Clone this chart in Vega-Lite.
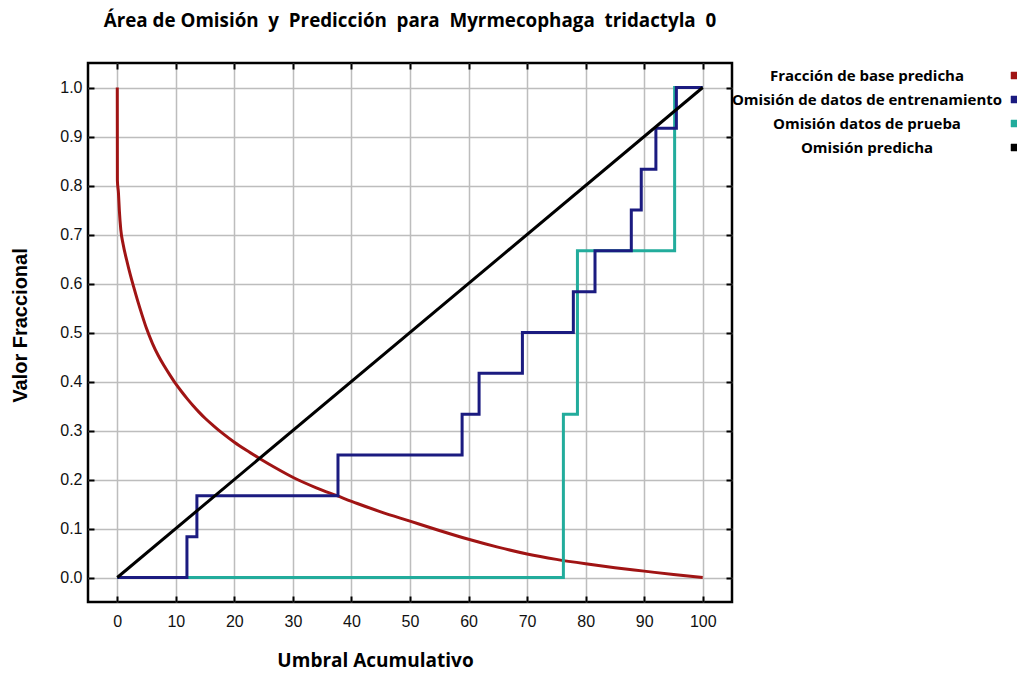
{
  "$schema": "https://vega.github.io/schema/vega-lite/v6.json",
  "width": 644,
  "height": 539,
  "autosize": "none",
  "padding": {"left": 88, "top": 63, "right": 285, "bottom": 77},
  "background": "white",
  "title": {
    "text": "Área de Omisión\u00a0 y\u00a0 Predicción\u00a0 para\u00a0 Myrmecophaga\u00a0 tridactyla\u00a0 0",
    "font": "Open Sans",
    "fontSize": 18.8,
    "fontWeight": "bold",
    "color": "black",
    "anchor": "middle",
    "offset": 31
  },
  "datasets": {
    "curvas": [
      {"serie": "Fracción de base predicha", "i": 1, "x": 0, "y": 1.0},
      {"serie": "Fracción de base predicha", "i": 2, "x": 0.02, "y": 0.81},
      {"serie": "Fracción de base predicha", "i": 3, "x": 0.2, "y": 0.785},
      {"serie": "Fracción de base predicha", "i": 4, "x": 0.35, "y": 0.75},
      {"serie": "Fracción de base predicha", "i": 5, "x": 0.6, "y": 0.71},
      {"serie": "Fracción de base predicha", "i": 6, "x": 1.0, "y": 0.68},
      {"serie": "Fracción de base predicha", "i": 7, "x": 1.6, "y": 0.648},
      {"serie": "Fracción de base predicha", "i": 8, "x": 2.2, "y": 0.619},
      {"serie": "Fracción de base predicha", "i": 9, "x": 2.8, "y": 0.593},
      {"serie": "Fracción de base predicha", "i": 10, "x": 3.5, "y": 0.564},
      {"serie": "Fracción de base predicha", "i": 11, "x": 4.2, "y": 0.537},
      {"serie": "Fracción de base predicha", "i": 12, "x": 5.0, "y": 0.508},
      {"serie": "Fracción de base predicha", "i": 13, "x": 6, "y": 0.478},
      {"serie": "Fracción de base predicha", "i": 14, "x": 7, "y": 0.453},
      {"serie": "Fracción de base predicha", "i": 15, "x": 8, "y": 0.432},
      {"serie": "Fracción de base predicha", "i": 16, "x": 9, "y": 0.413},
      {"serie": "Fracción de base predicha", "i": 17, "x": 10, "y": 0.395},
      {"serie": "Fracción de base predicha", "i": 18, "x": 11, "y": 0.379},
      {"serie": "Fracción de base predicha", "i": 19, "x": 12, "y": 0.364},
      {"serie": "Fracción de base predicha", "i": 20, "x": 13, "y": 0.35},
      {"serie": "Fracción de base predicha", "i": 21, "x": 14, "y": 0.337},
      {"serie": "Fracción de base predicha", "i": 22, "x": 15, "y": 0.325},
      {"serie": "Fracción de base predicha", "i": 23, "x": 16.5, "y": 0.309},
      {"serie": "Fracción de base predicha", "i": 24, "x": 18, "y": 0.294},
      {"serie": "Fracción de base predicha", "i": 25, "x": 20, "y": 0.276},
      {"serie": "Fracción de base predicha", "i": 26, "x": 22, "y": 0.26},
      {"serie": "Fracción de base predicha", "i": 27, "x": 24.3, "y": 0.243},
      {"serie": "Fracción de base predicha", "i": 28, "x": 27, "y": 0.224},
      {"serie": "Fracción de base predicha", "i": 29, "x": 30.4, "y": 0.202},
      {"serie": "Fracción de base predicha", "i": 30, "x": 34, "y": 0.183},
      {"serie": "Fracción de base predicha", "i": 31, "x": 37.5, "y": 0.167},
      {"serie": "Fracción de base predicha", "i": 32, "x": 41, "y": 0.151},
      {"serie": "Fracción de base predicha", "i": 33, "x": 45, "y": 0.134},
      {"serie": "Fracción de base predicha", "i": 34, "x": 50, "y": 0.115},
      {"serie": "Fracción de base predicha", "i": 35, "x": 55, "y": 0.096},
      {"serie": "Fracción de base predicha", "i": 36, "x": 60, "y": 0.078},
      {"serie": "Fracción de base predicha", "i": 37, "x": 65, "y": 0.062},
      {"serie": "Fracción de base predicha", "i": 38, "x": 70, "y": 0.048},
      {"serie": "Fracción de base predicha", "i": 39, "x": 75, "y": 0.037},
      {"serie": "Fracción de base predicha", "i": 40, "x": 80, "y": 0.028},
      {"serie": "Fracción de base predicha", "i": 41, "x": 85, "y": 0.02},
      {"serie": "Fracción de base predicha", "i": 42, "x": 90, "y": 0.013},
      {"serie": "Fracción de base predicha", "i": 43, "x": 95, "y": 0.006},
      {"serie": "Fracción de base predicha", "i": 44, "x": 100, "y": 0.0},

      {"serie": "Omisión datos de prueba", "i": 1, "x": 0, "y": 0},
      {"serie": "Omisión datos de prueba", "i": 2, "x": 76.2, "y": 0},
      {"serie": "Omisión datos de prueba", "i": 3, "x": 76.2, "y": 0.3333},
      {"serie": "Omisión datos de prueba", "i": 4, "x": 78.6, "y": 0.3333},
      {"serie": "Omisión datos de prueba", "i": 5, "x": 78.6, "y": 0.6667},
      {"serie": "Omisión datos de prueba", "i": 6, "x": 95.2, "y": 0.6667},
      {"serie": "Omisión datos de prueba", "i": 7, "x": 95.2, "y": 1},
      {"serie": "Omisión datos de prueba", "i": 8, "x": 100, "y": 1},

      {"serie": "Omisión de datos de entrenamiento", "i": 1, "x": 0, "y": 0},
      {"serie": "Omisión de datos de entrenamiento", "i": 2, "x": 11.9, "y": 0},
      {"serie": "Omisión de datos de entrenamiento", "i": 3, "x": 11.9, "y": 0.0833},
      {"serie": "Omisión de datos de entrenamiento", "i": 4, "x": 13.6, "y": 0.0833},
      {"serie": "Omisión de datos de entrenamiento", "i": 5, "x": 13.6, "y": 0.1667},
      {"serie": "Omisión de datos de entrenamiento", "i": 6, "x": 37.7, "y": 0.1667},
      {"serie": "Omisión de datos de entrenamiento", "i": 7, "x": 37.7, "y": 0.25},
      {"serie": "Omisión de datos de entrenamiento", "i": 8, "x": 58.9, "y": 0.25},
      {"serie": "Omisión de datos de entrenamiento", "i": 9, "x": 58.9, "y": 0.3333},
      {"serie": "Omisión de datos de entrenamiento", "i": 10, "x": 61.8, "y": 0.3333},
      {"serie": "Omisión de datos de entrenamiento", "i": 11, "x": 61.8, "y": 0.4167},
      {"serie": "Omisión de datos de entrenamiento", "i": 12, "x": 69.2, "y": 0.4167},
      {"serie": "Omisión de datos de entrenamiento", "i": 13, "x": 69.2, "y": 0.5},
      {"serie": "Omisión de datos de entrenamiento", "i": 14, "x": 77.9, "y": 0.5},
      {"serie": "Omisión de datos de entrenamiento", "i": 15, "x": 77.9, "y": 0.5833},
      {"serie": "Omisión de datos de entrenamiento", "i": 16, "x": 81.6, "y": 0.5833},
      {"serie": "Omisión de datos de entrenamiento", "i": 17, "x": 81.6, "y": 0.6667},
      {"serie": "Omisión de datos de entrenamiento", "i": 18, "x": 87.8, "y": 0.6667},
      {"serie": "Omisión de datos de entrenamiento", "i": 19, "x": 87.8, "y": 0.75},
      {"serie": "Omisión de datos de entrenamiento", "i": 20, "x": 89.5, "y": 0.75},
      {"serie": "Omisión de datos de entrenamiento", "i": 21, "x": 89.5, "y": 0.8333},
      {"serie": "Omisión de datos de entrenamiento", "i": 22, "x": 92, "y": 0.8333},
      {"serie": "Omisión de datos de entrenamiento", "i": 23, "x": 92, "y": 0.9167},
      {"serie": "Omisión de datos de entrenamiento", "i": 24, "x": 95.5, "y": 0.9167},
      {"serie": "Omisión de datos de entrenamiento", "i": 25, "x": 95.5, "y": 1},
      {"serie": "Omisión de datos de entrenamiento", "i": 26, "x": 100, "y": 1},

      {"serie": "Omisión predicha", "i": 1, "x": 0, "y": 0},
      {"serie": "Omisión predicha", "i": 2, "x": 100, "y": 1}
    ]
  },
  "data": {"name": "curvas"},
  "encoding": {
    "x": {"field": "x", "type": "quantitative", "scale": {"domain": [-5, 105], "nice": false, "zero": false}, "axis": null},
    "y": {"field": "y", "type": "quantitative", "scale": {"domain": [-0.05, 1.05], "nice": false, "zero": false}, "axis": null},
    "order": {"field": "i", "type": "quantitative"},
    "color": {
      "field": "serie",
      "type": "nominal",
      "scale": {
        "domain": ["Fracción de base predicha", "Omisión de datos de entrenamiento", "Omisión datos de prueba", "Omisión predicha"],
        "range": ["#a01414", "#1b1b80", "#22ac9c", "#000000"]
      },
      "legend": {
        "orient": "none",
        "legendX": 919,
        "legendY": 5,
        "title": null,
        "padding": 0,
        "symbolType": "square",
        "symbolSize": 49,
        "symbolStrokeWidth": 1,
        "labelAlign": "center",
        "labelOffset": -155,
        "labelLimit": 400,
        "labelFont": "Open Sans",
        "labelFontSize": 15,
        "labelFontWeight": "bold",
        "labelColor": "black",
        "rowPadding": 8,
        "encode": {
          "symbols": {"update": {"fill": {"scale": "color", "field": "value"}, "stroke": {"value": "#333333"}, "strokeWidth": {"value": 0.5}}}
        }
      }
    }
  },
  "resolve": {"axis": {"x": "independent", "y": "independent"}},
  "layer": [
    {
      "transform": [{"filter": "datum.serie === 'Fracción de base predicha'"}],
      "mark": {"type": "line", "strokeWidth": 3, "interpolate": "monotone"},
      "encoding": {
        "x": {
          "field": "x", "type": "quantitative",
          "scale": {"domain": [-5, 105], "nice": false, "zero": false},
          "axis": {
            "orient": "bottom",
            "values": [0, 10, 20, 30, 40, 50, 60, 70, 80, 90, 100],
            "grid": true, "gridColor": "#bdbdbd", "gridWidth": 1.5,
            "domain": false,
            "ticks": true, "tickSize": -6, "tickWidth": 2, "tickColor": "black",
            "labelFont": "Liberation Sans", "labelFontSize": 16, "labelColor": "#111111", "labelPadding": 17,
            "title": "Umbral Acumulativo",
            "titleFont": "Open Sans", "titleFontSize": 19, "titleFontWeight": "bold", "titleColor": "black",
            "titleX": 287, "titleY": 58, "titleBaseline": "middle", "titleAlign": "center"
          }
        },
        "y": {
          "field": "y", "type": "quantitative",
          "scale": {"domain": [-0.05, 1.05], "nice": false, "zero": false},
          "axis": {
            "orient": "left",
            "values": [0, 0.1, 0.2, 0.3, 0.4, 0.5, 0.6, 0.7, 0.8, 0.9, 1.0],
            "format": ".1f",
            "grid": true, "gridColor": "#bdbdbd", "gridWidth": 1.5,
            "domain": false,
            "ticks": true, "tickSize": -6, "tickWidth": 2, "tickColor": "black",
            "labelFont": "Liberation Sans", "labelFontSize": 16, "labelColor": "#111111", "labelPadding": 12,
            "title": "Valor Fraccional",
            "titleFont": "Liberation Sans", "titleFontSize": 20, "titleFontWeight": "bold", "titleColor": "black",
            "titleX": -68, "titleY": 262, "titleBaseline": "middle", "titleAlign": "center", "titleAngle": -90
          }
        }
      }
    },
    {
      "transform": [{"filter": "datum.serie === 'Omisión datos de prueba'"}],
      "mark": {"type": "line", "strokeWidth": 3, "interpolate": "linear"}
    },
    {
      "transform": [{"filter": "datum.serie === 'Omisión de datos de entrenamiento'"}],
      "mark": {"type": "line", "strokeWidth": 3, "interpolate": "linear"}
    },
    {
      "transform": [{"filter": "datum.serie === 'Omisión predicha'"}],
      "mark": {"type": "line", "strokeWidth": 3, "interpolate": "linear"},
      "encoding": {
        "x": {
          "field": "x", "type": "quantitative",
          "scale": {"domain": [-5, 105], "nice": false, "zero": false},
          "axis": {
            "orient": "top",
            "values": [0, 10, 20, 30, 40, 50, 60, 70, 80, 90, 100],
            "grid": false, "domain": false, "labels": false, "title": null,
            "ticks": true, "tickSize": -6, "tickWidth": 2, "tickColor": "black"
          }
        },
        "y": {
          "field": "y", "type": "quantitative",
          "scale": {"domain": [-0.05, 1.05], "nice": false, "zero": false},
          "axis": {
            "orient": "right",
            "values": [0, 0.1, 0.2, 0.3, 0.4, 0.5, 0.6, 0.7, 0.8, 0.9, 1.0],
            "grid": false, "domain": false, "labels": false, "title": null,
            "ticks": true, "tickSize": -6, "tickWidth": 2, "tickColor": "black"
          }
        }
      }
    }
  ],
  "config": {
    "view": {"stroke": "black", "strokeWidth": 2.5}
  }
}
